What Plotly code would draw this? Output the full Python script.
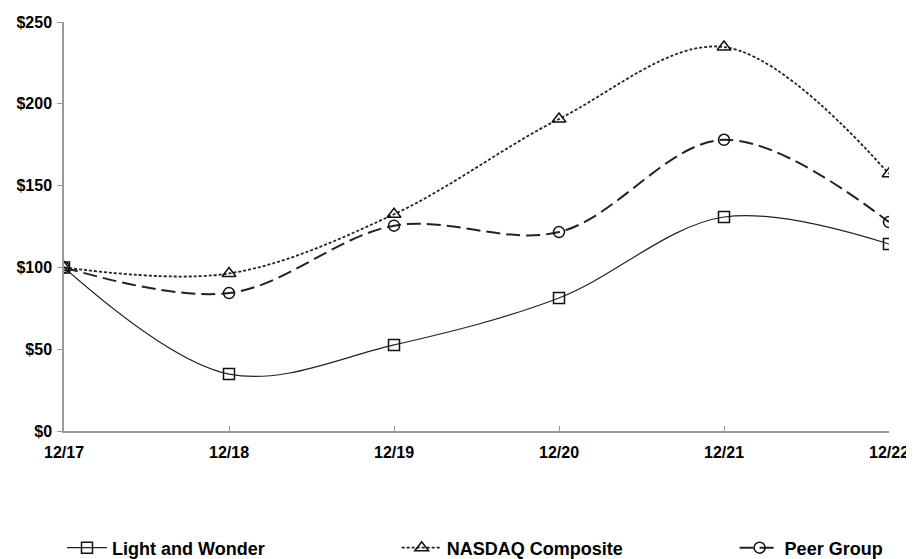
import plotly.graph_objects as go

periods = ["12/17", "12/18", "12/19", "12/20", "12/21", "12/22"]
light_and_wonder = [100, 34.8, 52.6, 81.3, 130.8, 114.3]
nasdaq = [100, 96.3, 132.5, 190.7, 234.7, 157.2]
peer_group = [100, 84.3, 125.5, 121.6, 178.0, 127.7]
y_ticks = [0, 50, 100, 150, 200, 250]
y_labels = ["$0", "$50", "$100", "$150", "$200", "$250"]

font_main = "Liberation Sans Narrow, Arial Narrow, Liberation Sans, Arial"

fig = go.Figure()
fig.add_trace(go.Scatter(
    x=periods, y=light_and_wonder, name="Light and Wonder", mode="lines+markers",
    line=dict(color="#222", width=1.2, shape="spline", smoothing=1),
    marker=dict(symbol="square-open", size=11, color="#111", line=dict(width=1.5)),
    legend="legend", showlegend=True))
fig.add_trace(go.Scatter(
    x=periods, y=nasdaq, name="NASDAQ Composite", mode="lines+markers",
    line=dict(color="#222", width=1.8, dash="3px,2px", shape="spline", smoothing=1),
    marker=dict(symbol="triangle-up-open", size=12, color="#111", line=dict(width=1.5)),
    legend="legend2", showlegend=True))
fig.add_trace(go.Scatter(
    x=periods, y=peer_group, name="Peer Group", mode="lines+markers",
    line=dict(color="#222", width=2, dash="14px,6px", shape="spline", smoothing=1),
    marker=dict(symbol="circle-open", size=11, color="#111", line=dict(width=1.5)),
    legend="legend3", showlegend=True))

leg_common = dict(orientation="h", yref="container", yanchor="middle", y=0.02,
                  xref="container", xanchor="left",
                  font=dict(family=font_main, size=18, color="#000", weight="bold"),
                  bgcolor="rgba(0,0,0,0)", itemwidth=40)
fig.update_layout(
    width=906, height=551,
    margin=dict(l=56, r=25, t=14, b=128),
    showlegend=True,
    paper_bgcolor="white", plot_bgcolor="white",
    font=dict(family="Liberation Sans, Arial", color="#000"),
    legend=dict(leg_common, x=0.0596),
    legend2=dict(leg_common, x=0.429),
    legend3=dict(leg_common, x=0.802),
    xaxis=dict(
        type="category", range=[0, 5], showgrid=False, zeroline=False,
        showline=True, linecolor="#999", linewidth=1.5, automargin=False,
        ticks="inside", tickcolor="#999", ticklen=5, ticklabelstandoff=6,
        tickfont=dict(family=font_main, size=16, color="#000", weight="bold"),
    ),
    yaxis=dict(
        range=[0, 250], tickvals=y_ticks, ticktext=y_labels, showgrid=False,
        zeroline=False, showline=True, linecolor="#999", linewidth=1.5, automargin=False,
        ticks="outside", tickcolor="#999", ticklen=5, ticklabelstandoff=2,
        tickfont=dict(family="Liberation Sans, Arial", size=16, color="#000", weight="bold"),
    ),
)
fig.write_html("out.html")
